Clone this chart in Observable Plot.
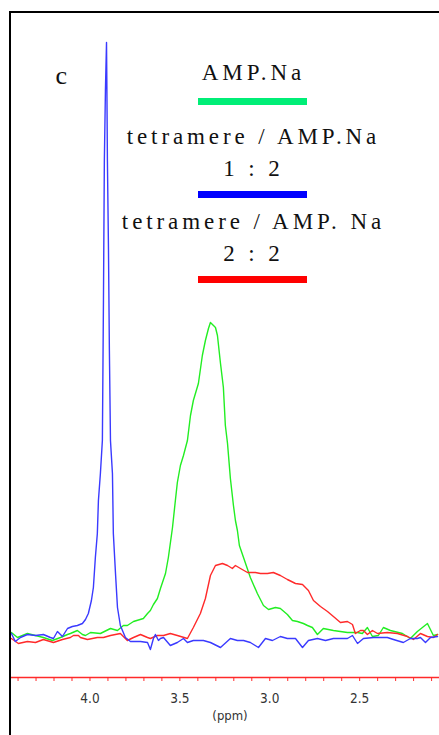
<!DOCTYPE html>
<html>
<head>
<meta charset="utf-8">
<script src="https://cdn.jsdelivr.net/npm/d3@7"></script>
<script src="https://cdn.jsdelivr.net/npm/@observablehq/plot@0.6"></script>
<style>
  html, body { margin: 0; padding: 0; background: #fff; }
  #wrap { position: relative; width: 439px; height: 735px; overflow: hidden; background: #fff; }
  #wrap svg { position: absolute; left: 0; top: 0; }
  .fline { position: absolute; background: #000; }
  .swatch { position: absolute; height: 7px; }
</style>
</head>
<body>
<div id="wrap"></div>
<script>
// ---- data (ppm, intensity in arbitrary units) ----
const bluePpm = [4.437,4.415,4.387,4.348,4.303,4.259,4.220,4.203,4.181,4.153,4.125,4.098,4.070,4.042,4.025,4.009,3.992,3.981,3.970,3.959,3.953,3.942,3.931,3.925,3.920,3.914,3.908,3.906,3.903,3.897,3.892,3.886,3.875,3.870,3.858,3.847,3.831,3.803,3.775,3.719,3.680,3.664,3.647,3.636,3.619,3.608,3.591,3.553,3.514,3.480,3.458,3.425,3.369,3.330,3.274,3.219,3.180,3.146,3.108,3.063,3.024,2.985,2.941,2.902,2.857,2.818,2.785,2.735,2.690,2.646,2.568,2.540,2.512,2.479,2.423,2.384,2.346,2.312,2.257,2.218,2.179,2.162,2.134,2.106,2.067];
const blueInt = [44,36,40,43,42,43,40,39,46,41,49,51,52,54,58,64,77,90,120,144,177,204,237,377,517,587,635,592,517,427,327,237,204,144,104,70,52,40,36,36,35,28,39,43,37,39,40,32,35,39,35,37,37,35,30,39,37,37,35,30,39,37,41,39,39,30,37,39,37,39,39,42,34,39,40,40,40,38,35,39,39,40,35,40,41];

const greenPpm = [4.437,4.403,4.348,4.259,4.209,4.164,4.125,4.109,4.070,4.042,4.025,3.997,3.942,3.886,3.847,3.814,3.792,3.758,3.703,3.680,3.664,3.647,3.625,3.608,3.580,3.564,3.541,3.525,3.514,3.497,3.480,3.458,3.441,3.425,3.397,3.375,3.358,3.341,3.330,3.313,3.302,3.291,3.274,3.258,3.247,3.235,3.219,3.202,3.191,3.180,3.169,3.146,3.108,3.069,3.035,3.007,2.968,2.941,2.902,2.874,2.846,2.813,2.790,2.763,2.735,2.702,2.646,2.568,2.512,2.485,2.457,2.429,2.396,2.368,2.329,2.262,2.218,2.179,2.123,2.090,2.067];
const greenInt = [45,40,44,40,37,40,43,44,47,43,42,45,44,49,47,52,52,56,59,64,67,73,79,89,104,120,150,177,195,212,222,237,262,277,294,322,337,349,355,352,350,342,314,290,252,234,199,172,157,147,132,120,100,84,72,68,70,69,63,57,56,54,52,50,43,49,47,45,45,44,50,41,42,50,47,44,39,46,54,42,43];

const redPpm = [4.437,4.398,4.348,4.303,4.259,4.203,4.153,4.109,4.092,4.064,4.053,4.014,3.959,3.925,3.886,3.831,3.792,3.758,3.719,3.680,3.664,3.625,3.591,3.553,3.514,3.458,3.425,3.386,3.358,3.330,3.302,3.263,3.235,3.208,3.191,3.163,3.124,3.080,3.052,3.013,2.980,2.941,2.902,2.857,2.818,2.785,2.757,2.718,2.679,2.646,2.607,2.568,2.540,2.524,2.496,2.479,2.457,2.429,2.401,2.346,2.290,2.234,2.201,2.162,2.123,2.090,2.067];
const redInt = [39,34,36,35,38,35,38,40,42,42,40,38,40,40,42,44,37,40,43,40,39,42,42,44,42,39,50,64,79,102,112,114,112,109,112,109,105,105,104,104,105,102,98,94,93,87,77,71,66,61,55,56,53,44,47,47,43,47,44,45,44,41,38,44,41,40,43];

const legendLabels = ["AMP.Na", "tetramere / AMP.Na\n1 : 2", "tetramere / AMP. Na\n2 : 2"];
const legendColors = ["#00ee77", "#0000ff", "#ff0000"];
const traceColors = ["#22ee22", "#3a3aff", "#ff2a2a"];
const panelLabel = "c";
const axisLabel = "(ppm)";
const majorTicks = [4.0, 3.5, 3.0, 2.5];
const minorTicks = d3.range(21, 45).map(d => d / 10);

const toRows = (xs, ys) => xs.map((p, i) => ({ppm: p, intensity: ys[i]}));
const greenRows = toRows(greenPpm, greenInt);
const blueRows = toRows(bluePpm, blueInt);
const redRows = toRows(redPpm, redInt);

// ---- layout (styles) ----
const serif = "Liberation Serif, Times New Roman, DejaVu Serif, serif";
const narrow = "Liberation Sans Narrow, DejaVu Sans Condensed, sans-serif";
const legendBaseline = [79, 175, 260];
const swatchTop = [98, 191, 276];
const spacing = 3.9;

const chart = Plot.plot({
  width: 439,
  height: 735,
  marginLeft: 10,
  marginRight: 0,
  marginTop: 12,
  marginBottom: 58,
  x: {domain: [4.442, 2.056], label: null},
  y: {domain: [0, 665], axis: null},
  marks: [
    Plot.ruleY([0], {stroke: "#ff2a2a", strokeWidth: 1.5}),
    Plot.axisX(minorTicks, {anchor: "bottom", tickSize: 4, stroke: "#ff2a2a", tickFormat: () => "", label: null}),
    Plot.axisX(majorTicks, {anchor: "bottom", tickSize: 0, tickPadding: 16, tickFormat: d => d.toFixed(1),
      fill: "#333", fontSize: 13.5, fontFamily: narrow, label: null}),
    Plot.text([axisLabel], {frameAnchor: "bottom", dx: 5, dy: 42, lineAnchor: "bottom",
      fill: "#333", fontSize: 13, fontFamily: narrow}),
    Plot.line(greenRows, {x: "ppm", y: "intensity", stroke: traceColors[0], strokeWidth: 1.4}),
    Plot.line(redRows, {x: "ppm", y: "intensity", stroke: traceColors[2], strokeWidth: 1.4}),
    Plot.line(blueRows, {x: "ppm", y: "intensity", stroke: traceColors[1], strokeWidth: 1.4}),
    Plot.text([panelLabel], {frameAnchor: "top-left", textAnchor: "start", lineAnchor: "bottom",
      dx: 45, dy: 71, fontSize: 26, fontFamily: serif, fill: "#111"}),
    ...legendLabels.map((t, i) => Plot.text([t], {
      frameAnchor: "top-left", textAnchor: "middle", lineAnchor: "bottom",
      dx: 241 + spacing / 2, dy: legendBaseline[i] - 12, lineHeight: 32 / 23,
      fontSize: 23, fontFamily: serif, fill: "#111"
    }))
  ]
});

// letter-spaced legend text (as in the original figure)
chart.querySelectorAll('g[font-size="23"]').forEach(g => {
  g.style.letterSpacing = spacing + "px";
  g.querySelectorAll("text, tspan").forEach(el => el.setAttribute("letter-spacing", spacing));
});

const wrap = document.getElementById("wrap");
wrap.appendChild(chart);

// frame lines
const topLine = document.createElement("div");
topLine.className = "fline";
Object.assign(topLine.style, {left: "9px", top: "11px", width: "430px", height: "2px"});
wrap.appendChild(topLine);
const leftLine = document.createElement("div");
leftLine.className = "fline";
Object.assign(leftLine.style, {left: "9px", top: "11px", width: "2px", height: "724px"});
wrap.appendChild(leftLine);

// legend swatches
legendColors.forEach((c, i) => {
  const s = document.createElement("div");
  s.className = "swatch";
  Object.assign(s.style, {left: "198px", top: swatchTop[i] + "px", width: "109px", background: c});
  wrap.appendChild(s);
});
</script>
</body>
</html>
